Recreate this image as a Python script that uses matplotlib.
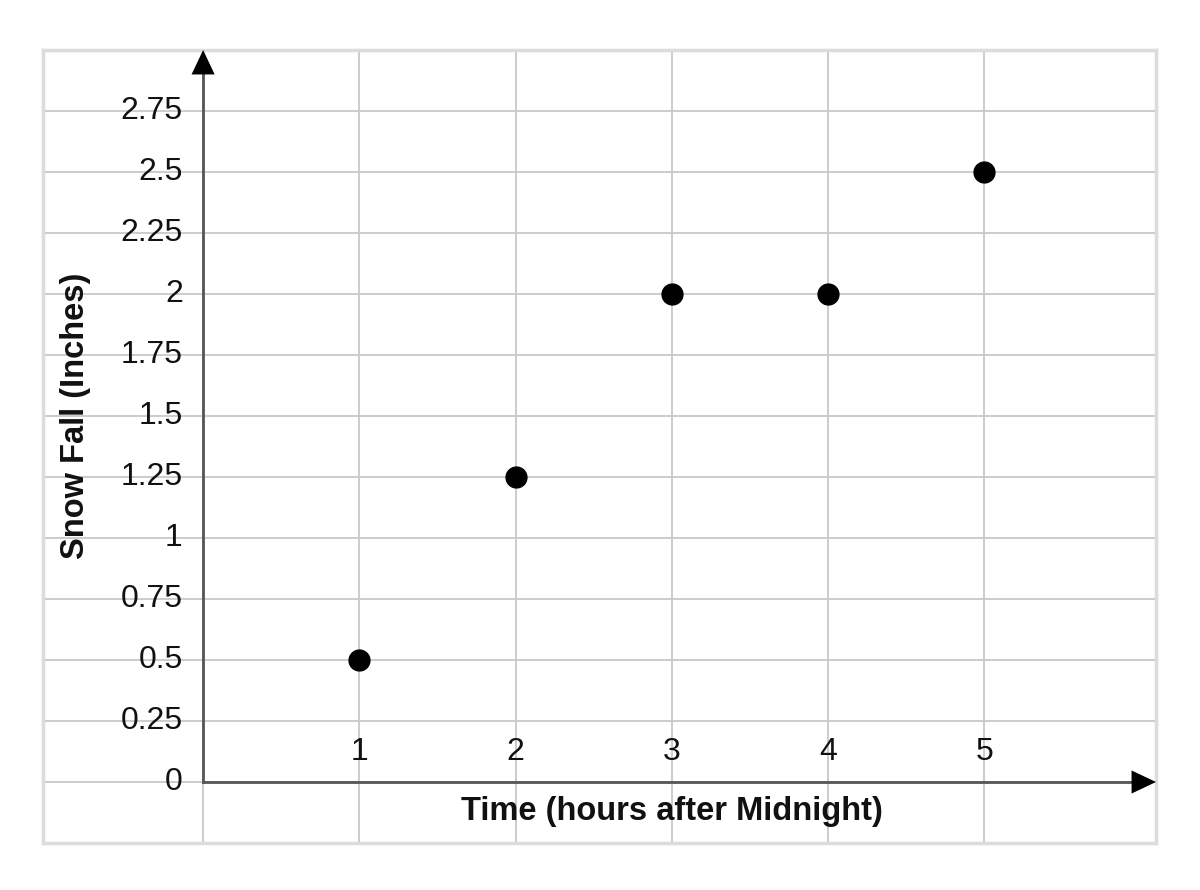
import matplotlib.pyplot as plt

plt.rcParams['font.family'] = ['Liberation Sans', 'DejaVu Sans']

horas = [1, 2, 3, 4, 5]
nieve = [0.5, 1.25, 2, 2, 2.5]
marcas_y = [0, 0.25, 0.5, 0.75, 1, 1.25, 1.5, 1.75, 2, 2.25, 2.5, 2.75]
etiquetas_y = ['0', '0.25', '0.5', '0.75', '1', '1.25', '1.5', '1.75', '2', '2.25', '2.5', '2.75']
marcas_x = [1, 2, 3, 4, 5]

fig = plt.figure(figsize=(12, 8.9), dpi=100)
ax = fig.add_axes([43 / 1200, 47 / 890, 1113 / 1200, 793 / 890])
ax.set_xlim(-1.025, 6.1)
ax.set_ylim(-0.25, 3.0)

# cuadricula
for x in range(0, 6):
    ax.axvline(x, color='#c8c8c8', lw=1.3, zorder=1)
for y in marcas_y:
    ax.axhline(y, color='#c8c8c8', lw=1.3, zorder=1)

for s in ax.spines.values():
    s.set_color('#dcdcdc')
    s.set_linewidth(2.5)
ax.set_xticks([])
ax.set_yticks([])

# ejes con flechas
estilo = '-|>,head_length=0.55,head_width=0.26'
ax.plot([0, 0], [0, 2.95], color='#555555', lw=2, zorder=3)
ax.plot([0, 6.05], [0, 0], color='#555555', lw=2, zorder=3)
ax.annotate('', xy=(0, 3.0), xytext=(0, 2.85),
            arrowprops=dict(arrowstyle=estilo, color='black', lw=0, mutation_scale=32,
                            shrinkA=0, shrinkB=0), zorder=4)
ax.annotate('', xy=(6.1, 0), xytext=(5.9, 0),
            arrowprops=dict(arrowstyle=estilo, color='black', lw=0, mutation_scale=32,
                            shrinkA=0, shrinkB=0), zorder=4)

for v, t in zip(marcas_y, etiquetas_y):
    ax.text(-0.13, v, t, ha='right', va='center', fontsize=23, color='#111111')
for v in marcas_x:
    ax.text(v, 0.125, str(v), ha='center', va='center', fontsize=23, color='#111111')

ax.text(3, -0.12, 'Time (hours after Midnight)', ha='center', va='center',
        fontsize=23.5, fontweight='bold', color='#111111')
ax.text(-0.82, 1.5, 'Snow Fall (Inches)', ha='center', va='center', rotation=90,
        fontsize=23.5, fontweight='bold', color='#111111')

ax.plot(horas, nieve, 'o', color='black', markersize=15, zorder=5)

fig.savefig('out.png', dpi=100)
